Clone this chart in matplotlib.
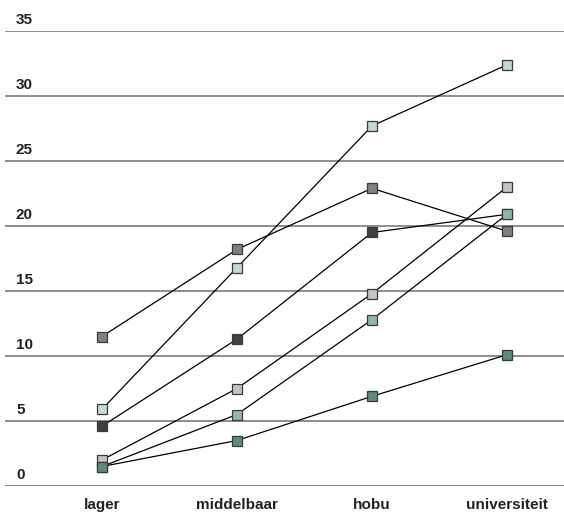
import matplotlib
matplotlib.use("Agg")
import matplotlib.pyplot as plt
import matplotlib.transforms as mtransforms

categories = ["lager", "middelbaar", "hobu", "universiteit"]
y_ticks = [0, 5, 10, 15, 20, 25, 30, 35]

s_lightgreen = [5.9, 16.8, 27.7, 32.4]
s_gray = [11.5, 18.2, 22.9, 19.6]
s_dark = [4.6, 11.3, 19.5, 20.9]
s_lightgray = [2.0, 7.5, 14.8, 23.0]
s_midgreen = [1.5, 5.5, 12.8, 20.9]
s_darkgreen = [1.5, 3.5, 6.9, 10.1]

series = [
    (s_lightgreen, "#c4dad0"),
    (s_gray, "#7f7f7f"),
    (s_dark, "#404040"),
    (s_lightgray, "#c4c4c4"),
    (s_midgreen, "#8fb8a6"),
    (s_darkgreen, "#5b8c78"),
]

W, H = 564, 513
fig = plt.figure(figsize=(W / 100, H / 100), dpi=100)
ax = fig.add_axes([5 / W, 27 / H, 559 / W, (486 - 31) / H])

x = list(range(len(categories)))
ax.set_xlim(-97 / 135, 462 / 135)
ax.set_ylim(0, 35)

for v in y_ticks:
    ax.axhline(v, color="#7a7a7a", lw=1.2, zorder=1)

for vals, col in series:
    ax.plot(x, vals, color="black", lw=0.9, zorder=2)
for vals, col in series:
    ax.plot(x, vals, ls="none", marker="s", ms=7.5, mfc=col, mec="#3a3a3a",
            mew=0.9, zorder=3, clip_on=False)

font = dict(family="Liberation Sans", weight="bold", size=11, color="#222222")
off = mtransforms.offset_copy(ax.transData, fig=fig, x=0, y=3, units="points")
tr = mtransforms.blended_transform_factory(fig.transFigure, off)
for v in y_ticks:
    ax.text(16 / W, v, str(v), transform=tr, ha="left", va="bottom", **font)

xtr = mtransforms.blended_transform_factory(ax.transData, fig.transFigure)
for i, c in enumerate(categories):
    fig.text(i, 8 / H, c, ha="center", va="center", transform=xtr, **font)

ax.axis("off")
fig.savefig("out.png", dpi=100)
